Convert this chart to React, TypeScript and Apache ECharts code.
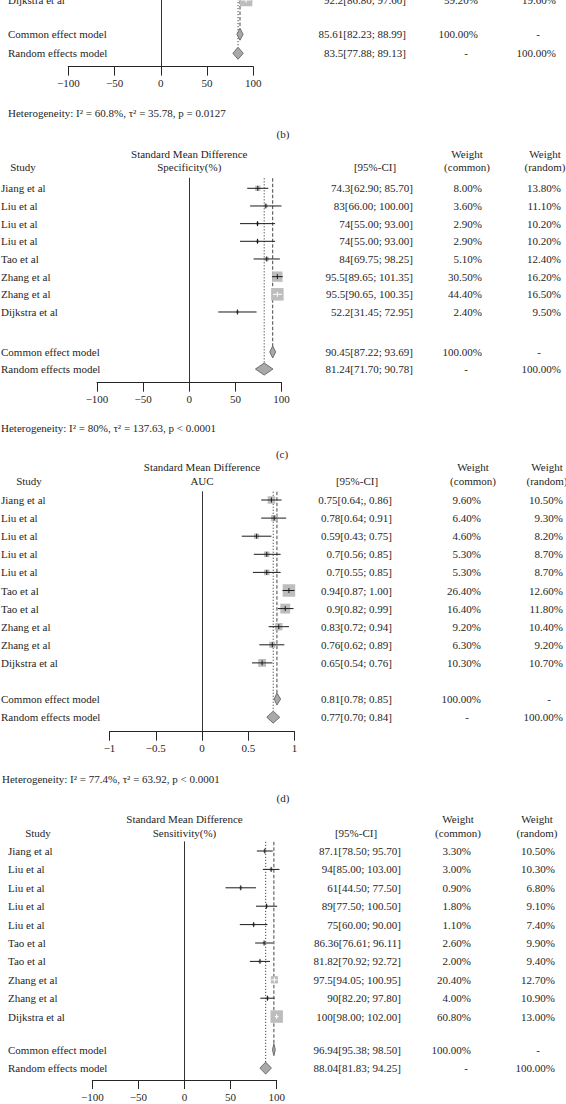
import React, { useEffect, useRef } from "react";
import * as echarts from "echarts";

const FONT = '"Liberation Serif", "Times New Roman", serif';
const INK = "#262626";
const SQUARE = "#bdbdbd";
const DIAMOND = "#a9a9a9";

// ---------- panel (b): only the tail of the plot is visible ----------
const bStudies = ["Dijkstra et al"];
const bEst = [92.2];
const bLow = [86.8];
const bHigh = [97.6];
const bWeightCommon = [59.2];
const bWeightRandom = [19.6];
const bCiText = ["92.2[86.80; 97.60]"];
const bPooledEst = [85.61, 83.5]; // common, random
const bPooledLow = [82.23, 77.88];
const bPooledHigh = [88.99, 89.13];
const bPooledText = ["85.61[82.23; 88.99]", "83.5[77.88; 89.13]"];
const bHetero = "Heterogeneity: I\u00b2 = 60.8%, \u03c4\u00b2 = 35.78, p = 0.0127";

// ---------- panel (c): Specificity(%) ----------
const cStudies = ["Jiang et al", "Liu et al", "Liu et al", "Liu et al", "Tao et al", "Zhang et al", "Zhang et al", "Dijkstra et al"];
const cEst = [74.3, 83, 74, 74, 84, 95.5, 95.5, 52.2];
const cLow = [62.9, 66, 55, 55, 69.75, 89.65, 90.65, 31.45];
const cHigh = [85.7, 100, 93, 93, 98.25, 101.35, 100.35, 72.95];
const cWeightCommon = [8.0, 3.6, 2.9, 2.9, 5.1, 30.5, 44.4, 2.4];
const cWeightRandom = [13.8, 11.1, 10.2, 10.2, 12.4, 16.2, 16.5, 9.5];
const cCiText = ["74.3[62.90; 85.70]", "83[66.00; 100.00]", "74[55.00; 93.00]", "74[55.00; 93.00]", "84[69.75; 98.25]", "95.5[89.65; 101.35]", "95.5[90.65, 100.35]", "52.2[31.45; 72.95]"];
const cPooledEst = [90.45, 81.24];
const cPooledLow = [87.22, 71.7];
const cPooledHigh = [93.69, 90.78];
const cPooledText = ["90.45[87.22; 93.69]", "81.24[71.70; 90.78]"];
const cHetero = "Heterogeneity: I\u00b2 = 80%, \u03c4\u00b2 = 137.63, p < 0.0001";

// ---------- panel (d): AUC ----------
const dStudies = ["Jiang et al", "Liu et al", "Liu et al", "Liu et al", "Liu et al", "Tao et al", "Tao et al", "Zhang et al", "Zhang et al", "Dijkstra et al"];
const dEst = [0.75, 0.78, 0.59, 0.7, 0.7, 0.94, 0.9, 0.83, 0.76, 0.65];
const dLow = [0.64, 0.64, 0.43, 0.56, 0.55, 0.87, 0.82, 0.72, 0.62, 0.54];
const dHigh = [0.86, 0.91, 0.75, 0.85, 0.85, 1.0, 0.99, 0.94, 0.89, 0.76];
const dWeightCommon = [9.6, 6.4, 4.6, 5.3, 5.3, 26.4, 16.4, 9.2, 6.3, 10.3];
const dWeightRandom = [10.5, 9.3, 8.2, 8.7, 8.7, 12.6, 11.8, 10.4, 9.2, 10.7];
const dCiText = ["0.75[0.64;, 0.86]", "0.78[0.64; 0.91]", "0.59[0.43; 0.75]", "0.7[0.56; 0.85]", "0.7[0.55; 0.85]", "0.94[0.87; 1.00]", "0.9[0.82; 0.99]", "0.83[0.72; 0.94]", "0.76[0.62; 0.89]", "0.65[0.54; 0.76]"];
const dPooledEst = [0.81, 0.77];
const dPooledLow = [0.78, 0.7];
const dPooledHigh = [0.85, 0.84];
const dPooledText = ["0.81[0.78; 0.85]", "0.77[0.70; 0.84]"];
const dHetero = "Heterogeneity: I\u00b2 = 77.4%, \u03c4\u00b2 = 63.92, p < 0.0001";

// ---------- panel (e): Sensitivity(%) ----------
const eStudies = ["Jiang et al", "Liu et al", "Liu et al", "Liu et al", "Liu et al", "Tao et al", "Tao et al", "Zhang et al", "Zhang et al", "Dijkstra et al"];
const eEst = [87.1, 94, 61, 89, 75, 86.36, 81.82, 97.5, 90, 100];
const eLow = [78.5, 85, 44.5, 77.5, 60, 76.61, 70.92, 94.05, 82.2, 98];
const eHigh = [95.7, 103, 77.5, 100.5, 90, 96.11, 92.72, 100.95, 97.8, 102];
const eWeightCommon = [3.3, 3.0, 0.9, 1.8, 1.1, 2.6, 2.0, 20.4, 4.0, 60.8];
const eWeightRandom = [10.5, 10.3, 6.8, 9.1, 7.4, 9.9, 9.4, 12.7, 10.9, 13.0];
const eCiText = ["87.1[78.50; 95.70]", "94[85.00; 103.00]", "61[44.50; 77.50]", "89[77.50; 100.50]", "75[60.00; 90.00]", "86.36[76.61; 96.11]", "81.82[70.92; 92.72]", "97.5[94.05; 100.95]", "90[82.20; 97.80]", "100[98.00; 102.00]"];
const ePooledEst = [96.94, 88.04];
const ePooledLow = [95.38, 81.83];
const ePooledHigh = [98.5, 94.25];
const ePooledText = ["96.94[95.38; 98.50]", "88.04[81.83; 94.25]"];

// ---------- axes ----------
const ticksPercent = [-100, -50, 0, 50, 100];
const ticksAuc = [-1, -0.5, 0, 0.5, 1];
const pooledNames = ["Common effect model", "Random effects model"];

const panels: any[] = [
  {
    studies: bStudies, est: bEst, low: bLow, high: bHigh, wC: bWeightCommon, wR: bWeightRandom, ci: bCiText,
    pEst: bPooledEst, pLow: bPooledLow, pHigh: bPooledHigh, pText: bPooledText, hetero: bHetero, ticks: ticksPercent,
    header: null, label: "(b)",
    L: { left: 68.3, right: 253.3, row0: 0, step: 18.5, common: 1.85, random: 2.88, vmin: -8, vmax: 3.6,
      nameX: 8, ciRight: 406, wcRight: 478, wrRight: 556, dashC: 466, dashR: 538,
      heteroX: 8, heteroY: 112.7, labelX: 283, labelY: 134 },
  },
  {
    studies: cStudies, est: cEst, low: cLow, high: cHigh, wC: cWeightCommon, wR: cWeightRandom, ci: cCiText,
    pEst: cPooledEst, pLow: cPooledLow, pHigh: cPooledHigh, pText: cPooledText, hetero: cHetero, ticks: ticksPercent,
    header: "Specificity(%)", label: "(c)",
    L: { left: 97, right: 281.5, row0: 188.3, step: 17.67, common: 9.26, random: 10.23, vmin: -0.57, vmax: 11.0,
      nameX: 1, ciRight: 413, wcRight: 482, wrRight: 561, dashC: 466, dashR: 539,
      heteroX: 1, heteroY: 428, labelX: 282, labelY: 454,
      h1: 154, h2: 166.7, studyX: 23, ciHX: 375, wcHX: 467, wrHX: 545 },
  },
  {
    studies: dStudies, est: dEst, low: dLow, high: dHigh, wC: dWeightCommon, wR: dWeightRandom, ci: dCiText,
    pEst: dPooledEst, pLow: dPooledLow, pHigh: dPooledHigh, pText: dPooledText, hetero: dHetero, ticks: ticksAuc,
    header: "AUC", label: "(d)",
    L: { left: 109.5, right: 294.5, row0: 500, step: 18.1, common: 11.0, random: 12.0, vmin: -0.46, vmax: 12.8,
      nameX: 1, ciRight: 392, wcRight: 481, wrRight: 563, dashC: 467, dashR: 549,
      heteroX: 2, heteroY: 779, labelX: 283, labelY: 798,
      h1: 467, h2: 481, studyX: 29, ciHX: 357, wcHX: 473, wrHX: 547 },
  },
  {
    studies: eStudies, est: eEst, low: eLow, high: eHigh, wC: eWeightCommon, wR: eWeightRandom, ci: eCiText,
    pEst: ePooledEst, pLow: ePooledLow, pHigh: ePooledHigh, pText: ePooledText, hetero: null, ticks: ticksPercent,
    header: "Sensitivity(%)", label: null,
    L: { left: 92.3, right: 276.7, row0: 851, step: 18.4, common: 10.8, random: 11.8, vmin: -0.5, vmax: 12.45,
      nameX: 8, ciRight: 401, wcRight: 471, wrRight: 555, dashC: 466, dashR: 538,
      h1: 819, h2: 833, studyX: 38, ciHX: 356, wcHX: 458, wrHX: 537 },
  },
];

const MAX_SIDE = 12.5;
const MIN_SIDE = 3;
const DIAMOND_HALF = 6;

function txt(text: string, x: number, y: number, align: string, size = 11, extra: any = {}) {
  return {
    type: "text",
    x,
    y,
    silent: true,
    style: {
      text,
      fill: INK,
      fontFamily: FONT,
      fontSize: size,
      align,
      textAlign: align,
      verticalAlign: "middle",
      textVerticalAlign: "middle",
      ...extra,
    },
  };
}

function buildPanel(p: any, gi: number) {
  const L = p.L;
  const top = L.row0 + L.vmin * L.step;
  const height = (L.vmax - L.vmin) * L.step;
  const maxW = Math.max(...p.wC);
  const grid = {
    left: L.left,
    top,
    width: L.right - L.left,
    height,
    containLabel: false,
    outerBoundsMode: "none",
  };
  const xAxis = {
    gridIndex: gi,
    type: "value",
    min: p.ticks[0],
    max: p.ticks[p.ticks.length - 1],
    interval: p.ticks[1] - p.ticks[0],
    position: "bottom",
    axisLine: { show: true, onZero: false, lineStyle: { color: INK, width: 1 } },
    axisTick: { show: true, length: 9, lineStyle: { color: INK, width: 1 } },
    axisLabel: {
      margin: 11,
      color: INK,
      fontFamily: FONT,
      fontSize: 11,
      formatter: (v: number) => String(v).replace("-", "\u2212"),
    },
    splitLine: { show: false },
  };
  const yAxis = {
    gridIndex: gi,
    type: "value",
    min: L.vmin,
    max: L.vmax,
    inverse: true,
    axisLine: { show: true, onZero: true, lineStyle: { color: "#333", width: 1 } },
    axisTick: { show: false },
    axisLabel: { show: false },
    splitLine: { show: false },
  };

  const refSeries = {
    type: "custom",
    xAxisIndex: gi,
    yAxisIndex: gi,
    clip: false,
    silent: true,
    encode: { x: 0, y: 1 },
    data: [
      [p.pEst[0], L.common, 0],
      [p.pEst[1], L.random, 1],
    ],
    renderItem: (_params: any, api: any) => {
      const x = api.value(0);
      const row = api.value(1);
      const kind = api.value(2);
      const a = api.coord([x, L.vmin]);
      const b = api.coord([x, row]);
      return {
        type: "line",
        shape: { x1: a[0], y1: a[1], x2: b[0], y2: b[1] - DIAMOND_HALF },
        style: {
          stroke: "#444",
          lineWidth: 1,
          lineDash: kind === 0 ? [3.5, 2] : [1.2, 1.8],
        },
      };
    },
  };

  const studySeries = {
    type: "custom",
    xAxisIndex: gi,
    yAxisIndex: gi,
    clip: false,
    silent: true,
    encode: { x: [0, 1, 2], y: 3 },
    data: p.est.map((e: number, i: number) => [e, p.low[i], p.high[i], i, p.wC[i]]),
    renderItem: (_params: any, api: any) => {
      const c = api.coord([api.value(0), api.value(3)]);
      const lo = api.coord([api.value(1), api.value(3)]);
      const hi = api.coord([api.value(2), api.value(3)]);
      const side = Math.max(MIN_SIDE, MAX_SIDE * Math.sqrt(api.value(4) / maxW));
      const inside = lo[0] >= c[0] - side / 2 && hi[0] <= c[0] + side / 2;
      const stroke = inside ? "#ffffff" : "#1a1a1a";
      return {
        type: "group",
        children: [
          {
            type: "rect",
            shape: { x: c[0] - side / 2, y: c[1] - side / 2, width: side, height: side },
            style: { fill: SQUARE },
          },
          {
            type: "line",
            shape: { x1: lo[0], y1: c[1], x2: hi[0], y2: c[1] },
            style: { stroke, lineWidth: 1 },
          },
          {
            type: "line",
            shape: { x1: c[0], y1: c[1] - 2.5, x2: c[0], y2: c[1] + 2.5 },
            style: { stroke, lineWidth: 1 },
          },
        ],
      };
    },
  };

  const pooledSeries = {
    type: "custom",
    xAxisIndex: gi,
    yAxisIndex: gi,
    clip: false,
    silent: true,
    encode: { x: [0, 1, 2], y: 3 },
    data: [
      [p.pEst[0], p.pLow[0], p.pHigh[0], L.common],
      [p.pEst[1], p.pLow[1], p.pHigh[1], L.random],
    ],
    renderItem: (_params: any, api: any) => {
      const row = api.value(3);
      const c = api.coord([api.value(0), row]);
      const lo = api.coord([api.value(1), row]);
      const hi = api.coord([api.value(2), row]);
      return {
        type: "polygon",
        shape: {
          points: [
            [lo[0], c[1]],
            [c[0], c[1] - DIAMOND_HALF],
            [hi[0], c[1]],
            [c[0], c[1] + DIAMOND_HALF],
          ],
        },
        style: { fill: DIAMOND, stroke: "#555", lineWidth: 0.8 },
      };
    },
  };

  const tableData: any[] = p.studies.map((_s: string, i: number) => [0, i, i, 0]);
  tableData.push([0, L.common, 0, 1]);
  tableData.push([0, L.random, 1, 2]);
  const tableSeries = {
    type: "custom",
    xAxisIndex: gi,
    yAxisIndex: gi,
    clip: false,
    silent: true,
    encode: { x: 0, y: 1 },
    data: tableData,
    renderItem: (_params: any, api: any) => {
      const y = api.coord([0, api.value(1)])[1];
      const idx = api.value(2);
      const kind = api.value(3);
      const children: any[] = [];
      if (kind === 0) {
        children.push(txt(p.studies[idx], L.nameX, y, "left"));
        children.push(txt(p.ci[idx], L.ciRight, y, "right"));
        children.push(txt(p.wC[idx].toFixed(2) + "%", L.wcRight, y, "right"));
        children.push(txt(p.wR[idx].toFixed(2) + "%", L.wrRight, y, "right"));
      } else {
        const total = (100).toFixed(2) + "%";
        children.push(txt(pooledNames[idx], L.nameX, y, "left"));
        children.push(txt(p.pText[idx], L.ciRight, y, "right"));
        if (kind === 1) {
          children.push(txt(total, L.wcRight, y, "right"));
          children.push(txt("-", L.dashR, y, "center"));
        } else {
          children.push(txt("-", L.dashC, y, "center"));
          children.push(txt(total, L.wrRight, y, "right"));
        }
      }
      return { type: "group", children };
    },
  };

  const graphics: any[] = [];
  const zeroX = L.left + ((0 - p.ticks[0]) / (p.ticks[p.ticks.length - 1] - p.ticks[0])) * (L.right - L.left);
  if (p.header) {
    graphics.push(txt("Standard Mean Difference", zeroX, L.h1, "center"));
    graphics.push(txt(p.header, zeroX, L.h2, "center"));
    graphics.push(txt("Study", L.studyX, L.h2, "center"));
    graphics.push(txt("[95%-CI]", L.ciHX, L.h2, "center"));
    graphics.push(txt("Weight", L.wcHX, L.h1, "center"));
    graphics.push(txt("(common)", L.wcHX, L.h2, "center"));
    graphics.push(txt("Weight", L.wrHX, L.h1, "center"));
    graphics.push(txt("(random)", L.wrHX, L.h2, "center"));
  }
  if (p.hetero) graphics.push(txt(p.hetero, L.heteroX, L.heteroY, "left", 11));
  if (p.label) graphics.push(txt(p.label, L.labelX, L.labelY, "center"));

  return {
    grid,
    xAxis,
    yAxis,
    series: [refSeries, studySeries, pooledSeries, tableSeries],
    graphics,
  };
}

export default function App() {
  const ref = useRef<HTMLDivElement>(null);
  useEffect(() => {
    if (!ref.current) return;
    const chart = echarts.init(ref.current, null, { renderer: "svg" });
    const built = panels.map((p, i) => buildPanel(p, i));
    chart.setOption({
      animation: false,
      backgroundColor: "#ffffff",
      textStyle: { fontFamily: FONT },
      grid: built.map((b) => b.grid),
      xAxis: built.map((b) => b.xAxis),
      yAxis: built.map((b) => b.yAxis),
      series: built.flatMap((b) => b.series),
      graphic: { elements: built.flatMap((b) => b.graphics) },
    });
    return () => chart.dispose();
  }, []);
  return (
    <div
      ref={ref}
      style={{ position: "absolute", left: 0, top: 0, width: 566, height: 1104, background: "#fff" }}
    />
  );
}
